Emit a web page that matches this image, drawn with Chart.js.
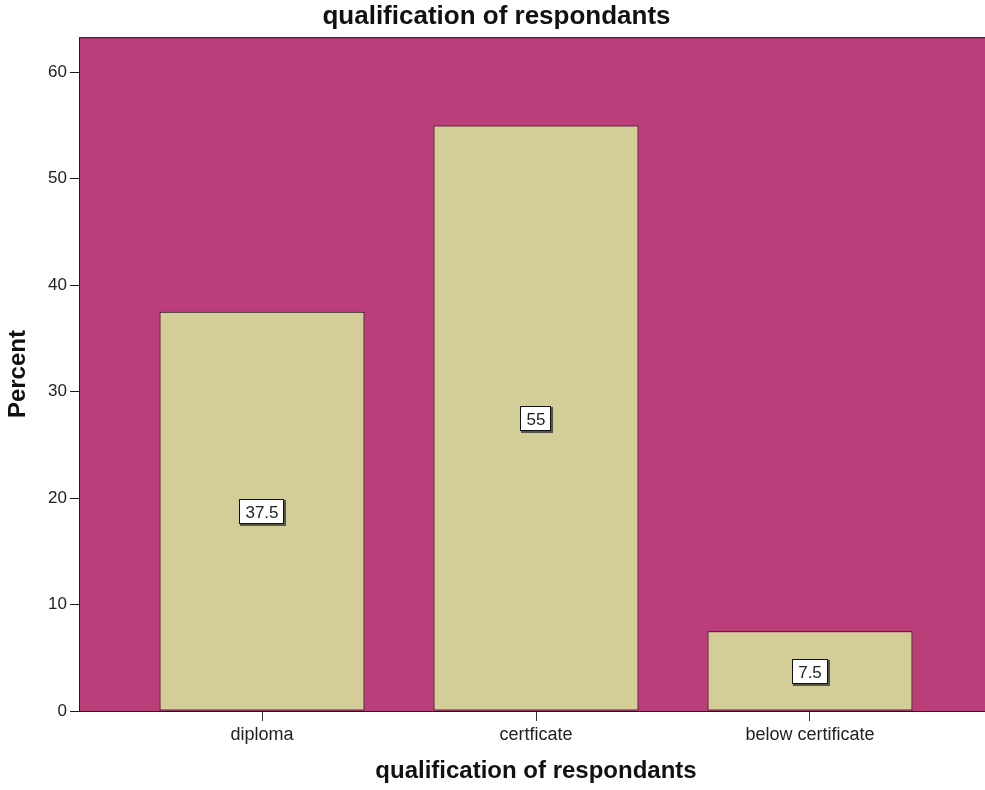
<!DOCTYPE html>
<html>
<head>
<meta charset="utf-8">
<title>qualification of respondants</title>
<script src="https://cdn.jsdelivr.net/npm/chart.js@4.4.1/dist/chart.umd.min.js"></script>
<style>
  html, body { margin: 0; padding: 0; background: #ffffff; overflow: hidden; }
  #wrap { width: 985px; height: 790px; position: relative; overflow: hidden; }
  #chart { position: absolute; left: 0; top: 0; }
</style>
</head>
<body>
<div id="wrap"><canvas id="chart" width="993" height="790"></canvas></div>
<script>
// Qualification categories and their share of respondents (%)
const categories = ['diploma', 'certficate', 'below certificate'];
const percents = [37.5, 55, 7.5];
const yTicks = [0, 10, 20, 30, 40, 50, 60];

const plotFill = '#B93E7A';
const barFill = '#D3CD98';
const sans = '"Liberation Sans", Arial, sans-serif';

// Fills the plotting area and frames it
const plotFrame = {
  id: 'plotFrame',
  beforeDatasetsDraw(chart) {
    const { ctx, chartArea: a } = chart;
    ctx.save();
    ctx.fillStyle = plotFill;
    ctx.fillRect(a.left, a.top, a.right - a.left, a.bottom - a.top);
    ctx.restore();
  },
  afterDatasetsDraw(chart) {
    const { ctx, chartArea: a } = chart;
    ctx.save();
    ctx.strokeStyle = '#1a1a1a';
    ctx.lineWidth = 1;
    ctx.beginPath();
    ctx.moveTo(a.left + 0.5, a.bottom + 0.5);
    ctx.lineTo(a.left + 0.5, a.top + 0.5);
    ctx.lineTo(a.right, a.top + 0.5);
    ctx.moveTo(a.left, a.bottom + 0.5);
    ctx.lineTo(a.right, a.bottom + 0.5);
    ctx.stroke();
    ctx.restore();
  }
};

// Boxed value label in the middle of each bar
const valueBoxes = {
  id: 'valueBoxes',
  afterDatasetsDraw(chart) {
    const { ctx } = chart;
    const meta = chart.getDatasetMeta(0);
    const values = chart.data.datasets[0].data;
    ctx.save();
    ctx.font = '17px ' + sans;
    ctx.textAlign = 'center';
    ctx.textBaseline = 'middle';
    meta.data.forEach((bar, i) => {
      const p = bar.getProps(['x', 'y', 'base'], true);
      const text = String(values[i].y);
      const tw = ctx.measureText(text).width;
      const w = Math.round(tw + 12);
      const h = 25;
      const cx = Math.round(p.x);
      const cy = Math.round((p.y + p.base) / 2) + 1;
      const left = cx - Math.round(w / 2);
      const top = cy - Math.round(h / 2);
      ctx.fillStyle = '#55554a';
      ctx.fillRect(left + 1, top + 1, w + 1, h + 1);
      ctx.fillStyle = '#ffffff';
      ctx.fillRect(left, top, w, h);
      ctx.strokeStyle = '#111111';
      ctx.lineWidth = 1;
      ctx.strokeRect(left + 0.5, top + 0.5, w - 1, h - 1);
      ctx.fillStyle = '#222222';
      ctx.fillText(text, cx, cy + 1);
    });
    ctx.restore();
  }
};

new Chart(document.getElementById('chart'), {
  type: 'bar',
  data: {
    datasets: [{
      label: 'Percent',
      data: categories.map((c, i) => ({ x: i, y: percents[i] })),
      backgroundColor: barFill,
      borderColor: '#111111',
      borderWidth: 1,
      borderSkipped: false,
      categoryPercentage: 1,
      barPercentage: 0.748
    }]
  },
  options: {
    responsive: false,
    animation: false,
    layout: { padding: 0 },
    plugins: {
      legend: { display: false },
      tooltip: { enabled: false },
      title: {
        display: true,
        text: 'qualification of respondants',
        color: '#111111',
        font: { family: sans, size: 26, weight: 'bold', lineHeight: 1.2 },
        padding: { top: 1, bottom: 5 }
      }
    },
    scales: {
      x: {
        type: 'linear',
        min: -0.668,
        max: 2.668,
        offset: false,
        afterFit(scale) { scale.height = 79; },
        afterBuildTicks(scale) { scale.ticks = categories.map((c, i) => ({ value: i })); },
        grid: {
          display: true,
          offset: false,
          drawOnChartArea: false,
          drawTicks: true,
          tickLength: 10,
          color: '#333333'
        },
        border: { display: true, color: '#1a1a1a' },
        ticks: {
          padding: 3,
          color: '#222222',
          font: { family: sans, size: 18 },
          maxRotation: 0,
          autoSkip: false,
          callback: (v) => categories[v] ?? ''
        },
        title: {
          display: true,
          text: 'qualification of respondants',
          color: '#111111',
          font: { family: sans, size: 24, weight: 'bold', lineHeight: 1.2 },
          padding: { top: 0, bottom: 4 }
        }
      },
      y: {
        type: 'linear',
        min: 0,
        max: 63.3,
        afterFit(scale) { scale.width = 79; },
        afterBuildTicks(scale) { scale.ticks = yTicks.map(v => ({ value: v })); },
        grid: {
          display: true,
          drawOnChartArea: false,
          drawTicks: true,
          tickLength: 9,
          color: '#1a1a1a'
        },
        border: { display: true, color: '#1a1a1a' },
        ticks: {
          padding: 3,
          color: '#222222',
          font: { family: sans, size: 17 }
        },
        title: {
          display: true,
          text: 'Percent',
          color: '#111111',
          font: { family: sans, size: 24, weight: 'bold', lineHeight: 1.2 },
          padding: { top: 4, bottom: 0 }
        }
      }
    }
  },
  plugins: [plotFrame, valueBoxes]
});
</script>
</body>
</html>
